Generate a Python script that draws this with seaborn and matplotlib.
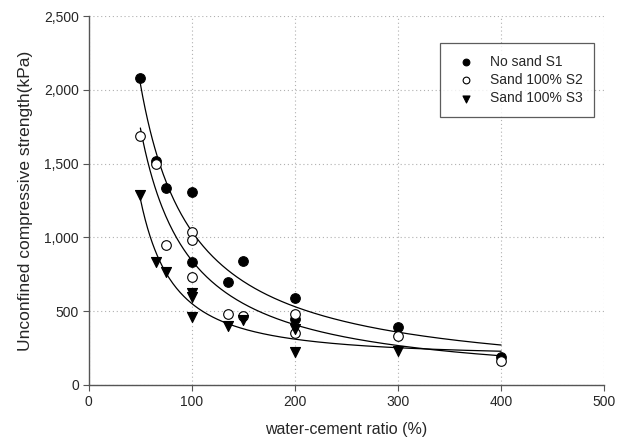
import numpy as np
import pandas as pd
import matplotlib
matplotlib.use("Agg")
import matplotlib.pyplot as plt
import matplotlib.ticker as mticker
import seaborn as sns

# ----- data -----
s1_x = [50, 65, 75, 100, 100, 135, 150, 200, 200, 300, 400]
s1_y = [2080, 1518, 1335, 1308, 833, 698, 840, 589, 445, 393, 190]

s2_x = [50, 65, 75, 100, 100, 100, 135, 150, 200, 200, 300, 400]
s2_y = [1687, 1497, 950, 1037, 982, 732, 481, 470, 481, 352, 332, 160]

s3_x = [50, 65, 75, 100, 100, 100, 135, 150, 200, 200, 300]
s3_y = [1287, 833, 765, 623, 596, 461, 400, 440, 376, 224, 230]

labels = ["No sand S1", "Sand 100% S2", "Sand 100% S3"]


def fit_power(x, y, offset=False):
    # least squares y = c + a*x^b (c = 0 unless offset)
    x = np.asarray(x, float)
    y = np.asarray(y, float)
    best = None
    for b in np.linspace(-4, -0.05, 4000):
        xb = x ** b
        A = np.column_stack([np.ones_like(xb), xb]) if offset else xb[:, None]
        coef, *_ = np.linalg.lstsq(A, y, rcond=None)
        sse = np.sum((A @ coef - y) ** 2)
        if best is None or sse < best[0]:
            best = (sse, b, coef)
    _, b, coef = best
    if offset:
        return lambda t: coef[0] + coef[1] * t ** b
    return lambda t: coef[0] * t ** b


pts = pd.concat([
    pd.DataFrame({"x": s1_x, "y": s1_y, "series": labels[0]}),
    pd.DataFrame({"x": s2_x, "y": s2_y, "series": labels[1]}),
    pd.DataFrame({"x": s3_x, "y": s3_y, "series": labels[2]}),
])

xs = np.linspace(50, 400, 300)
fits = [fit_power(s1_x, s1_y), fit_power(s2_x, s2_y), fit_power(s3_x, s3_y, offset=True)]
curves = pd.concat([pd.DataFrame({"x": xs, "y": f(xs), "series": lab})
                    for f, lab in zip(fits, labels)])

# ----- plot -----
sns.set_style("white")
plt.rcParams["font.family"] = ["Liberation Sans", "DejaVu Sans"]

fig = plt.figure(figsize=(6.3, 4.47), dpi=100)
ax = fig.add_axes([0.141, 0.139, 0.818, 0.825])

sns.lineplot(data=curves, x="x", y="y", units="series", estimator=None,
             color="black", linewidth=0.9, ax=ax, legend=False)

styles = {
    labels[0]: dict(marker="o", facecolor="black", s=48),
    labels[1]: dict(marker="o", facecolor="white", s=48),
    labels[2]: dict(marker="v", facecolor="black", s=52),
}
for lab in labels:
    st = styles[lab]
    sns.scatterplot(data=pts[pts["series"] == lab], x="x", y="y", ax=ax,
                    marker=st["marker"], s=st["s"], color=st["facecolor"],
                    edgecolor="black", linewidth=0.8, label=lab, zorder=3)

ax.set_xlim(0, 500)
ax.set_ylim(0, 2500)
ax.set_xticks([0, 100, 200, 300, 400, 500])
ax.set_yticks([0, 500, 1000, 1500, 2000, 2500])
ax.yaxis.set_major_formatter(mticker.StrMethodFormatter("{x:,.0f}"))
ax.grid(True, linestyle=(0, (1, 2.5)), color="#b0b0b0", linewidth=0.8)

for side in ["top", "right"]:
    ax.spines[side].set_visible(False)
for side in ["left", "bottom"]:
    ax.spines[side].set_color("#555555")
    ax.spines[side].set_linewidth(1.0)
ax.tick_params(direction="out", length=4, width=0.8, color="#555555",
               labelsize=10, pad=3, bottom=True, left=True)

ax.set_xlabel("water-cement ratio (%)", fontsize=11.5, labelpad=10)
ax.set_ylabel("Unconfined compressive strength(kPa)", fontsize=12.5, labelpad=8)

leg = ax.legend(loc="upper right", bbox_to_anchor=(0.981, 0.927), frameon=True,
                fancybox=False, edgecolor="#333333", fontsize=10,
                borderpad=0.85, handlelength=2.0, handletextpad=0.7,
                labelspacing=0.3, borderaxespad=0, markerscale=0.7)
leg.get_frame().set_linewidth(0.9)

fig.savefig("out.png", dpi=100)
